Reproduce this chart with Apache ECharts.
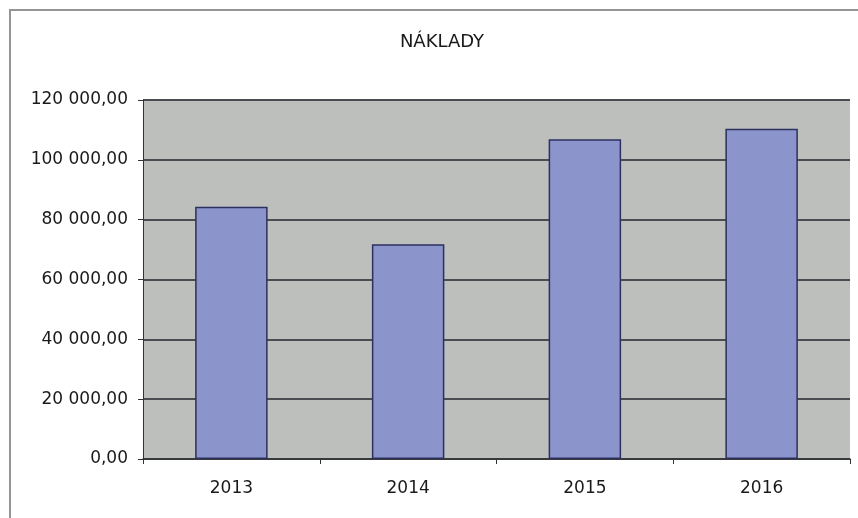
<!DOCTYPE html>
<html>
<head>
<meta charset="utf-8">
<script src="https://cdn.jsdelivr.net/npm/echarts@6/dist/echarts.min.js"></script>
<style>
  html, body { margin: 0; padding: 0; background: #fff; }
  #chart { width: 858px; height: 518px; }
</style>
</head>
<body>
<div id="chart"></div>
<script>
  // data
  var years = ['2013', '2014', '2015', '2016'];
  var naklady = [84300, 71800, 106900, 110400];
  var titleText = 'NÁKLADY';

  // 120000 -> "120 000,00"
  function fmt(v) {
    var s = Math.round(v).toString().replace(/\B(?=(\d{3})+(?!\d))/g, ' ');
    return s + ',00';
  }

  var chart = echarts.init(document.getElementById('chart'));
  chart.setOption({
    animation: false,
    backgroundColor: '#ffffff',
    title: {
      text: titleText,
      left: 437,
      top: 28,
      textAlign: 'center',
      textStyle: {
        fontFamily: 'DejaVu Sans',
        fontSize: 18,
        fontWeight: 'normal',
        color: '#1a1a1a'
      }
    },
    // frame: only top and left edges show in the picture
    graphic: [{
      type: 'polyline',
      shape: { points: [[10, 518], [10, 10], [858, 10]] },
      style: { fill: 'none', stroke: '#959595', lineWidth: 2 },
      silent: true
    }],
    grid: {
      left: 143,
      right: 8,
      top: 100,
      bottom: 59,
      show: true,
      backgroundColor: '#bdbfbd',
      borderWidth: 0
    },
    xAxis: {
      type: 'category',
      data: years,
      axisLine: { lineStyle: { color: '#333333', width: 1.5 } },
      axisTick: { show: true, length: 5, lineStyle: { color: '#333333' } },
      axisLabel: {
        margin: 21,
        fontFamily: 'DejaVu Sans',
        fontSize: 17,
        color: '#1a1a1a'
      }
    },
    yAxis: {
      type: 'value',
      min: 0,
      max: 120000,
      interval: 20000,
      axisLine: { show: true, lineStyle: { color: '#333333', width: 1 } },
      axisTick: { show: true, length: 5, lineStyle: { color: '#333333' } },
      splitLine: { lineStyle: { color: '#4a4d4f', width: 2 } },
      axisLabel: {
        margin: 15,
        fontFamily: 'DejaVu Sans',
        fontSize: 17,
        color: '#1a1a1a',
        formatter: fmt
      }
    },
    series: [{
      type: 'bar',
      data: naklady,
      barWidth: '41%',
      itemStyle: {
        color: '#8b95cb',
        borderColor: '#2c3060',
        borderWidth: 1.5
      }
    }]
  });
</script>
</body>
</html>
